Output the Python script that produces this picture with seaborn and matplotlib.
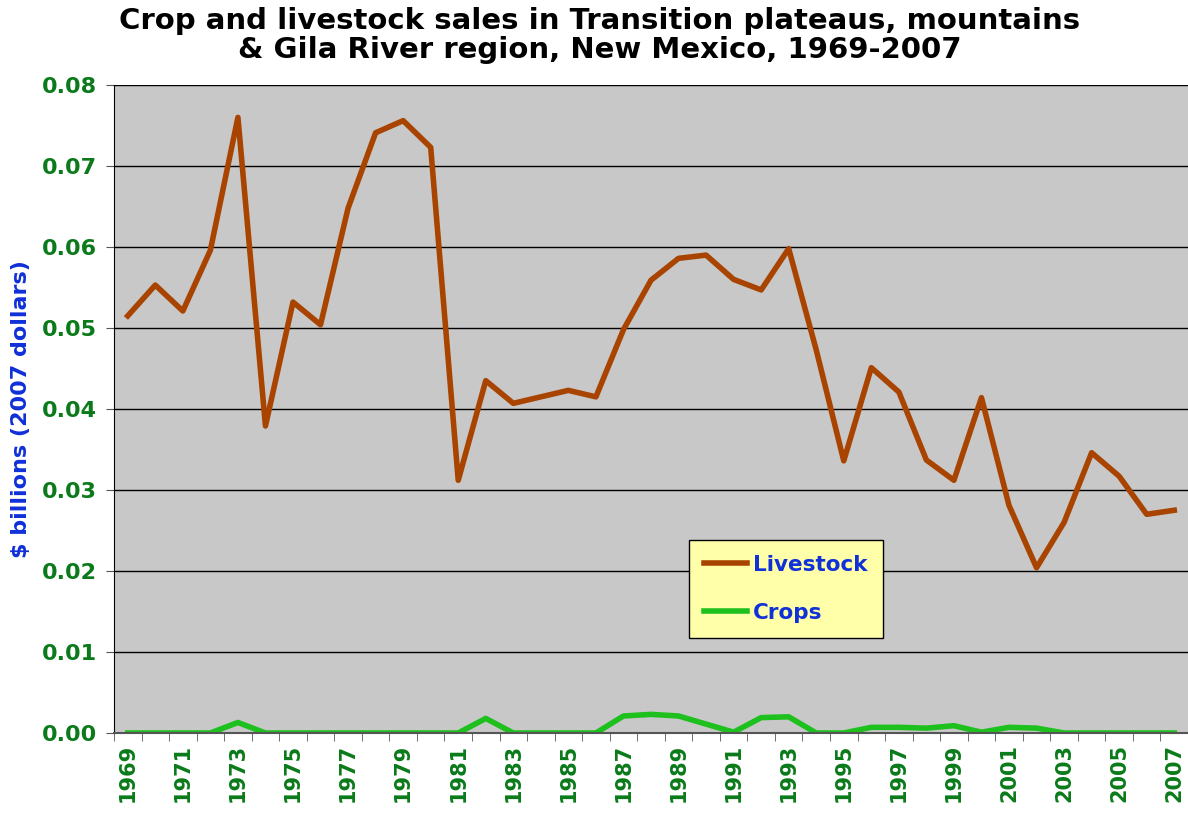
import pandas as pd
import matplotlib.pyplot as plt
import seaborn as sns

years = list(range(1969, 2008))
livestock = [0.0515, 0.0553, 0.0521, 0.0596, 0.0760, 0.0379, 0.0532, 0.0504,
             0.0648, 0.0741, 0.0756, 0.0723, 0.0312, 0.0435, 0.0407, 0.0415,
             0.0423, 0.0415, 0.0498, 0.0559, 0.0586, 0.0590, 0.0560, 0.0547,
             0.0598, 0.0473, 0.0336, 0.0451, 0.0421, 0.0337, 0.0312, 0.0414,
             0.0281, 0.0204, 0.0260, 0.0346, 0.0317, 0.0270, 0.0275]
crops = [0.0, 0.0, 0.0, 0.0, 0.0013, 0.0, 0.0, 0.0,
         0.0, 0.0, 0.0, 0.0, 0.0, 0.0018, 0.0, 0.0,
         0.0, 0.0, 0.0021, 0.0023, 0.0021, 0.0011, 0.0001, 0.0019,
         0.0020, 0.0, 0.0, 0.0007, 0.0007, 0.0006, 0.0009, 0.0001,
         0.0007, 0.0006, 0.0, 0.0, 0.0, 0.0, 0.0]

df = pd.DataFrame({
    "pos": list(range(len(years))) * 2,
    "value": livestock + crops,
    "series": ["Livestock"] * len(years) + ["Crops"] * len(years),
})

green = "#0A7A1A"
blue = "#1030D8"

fig = plt.figure(figsize=(11.88, 8.14), dpi=100)
ax = fig.add_axes([114 / 1188, 81 / 814, 1 - 114 / 1188, (733 - 85) / 814])
ax.set_facecolor("#C8C8C8")

sns.lineplot(data=df, x="pos", y="value", hue="series",
             palette={"Livestock": "#A84400", "Crops": "#1EC01E"},
             linewidth=4, ax=ax)

ax.set_ylim(0, 0.08)
ax.set_xlim(-0.5, 38.3)
ax.set_yticks([i / 100 for i in range(9)])
ax.set_yticklabels([f"{i / 100:.2f}" for i in range(9)], color=green,
                   fontsize=16, fontweight="bold")
ax.set_xticks(range(0, len(years), 2))
ax.set_xticklabels([str(y) for y in years[::2]], rotation=90, color=green,
                   fontsize=15, fontweight="bold")
ax.set_xticks([i + 0.5 for i in range(-1, len(years))], minor=True)
ax.tick_params(axis="x", which="major", length=0, pad=8)
ax.tick_params(axis="x", which="minor", length=6, color="#555555")
ax.tick_params(axis="y", length=6, color="#555555", pad=6)
ax.grid(axis="y", color="black", linewidth=1)
ax.set_axisbelow(True)
for s in ["top", "right"]:
    ax.spines[s].set_visible(False)
ax.spines["left"].set_color("black")
ax.spines["bottom"].set_color("#555555")
ax.spines["bottom"].set_linewidth(1.5)

ax.set_xlabel("")
ax.set_ylabel("$ billions (2007 dollars)", color=blue, fontsize=16,
              fontweight="bold", labelpad=8)

fig.suptitle("Crop and livestock sales in Transition plateaus, mountains\n"
             "& Gila River region, New Mexico, 1969-2007",
             fontsize=21, fontweight="bold", y=0.992, x=0.505,
             linespacing=1.05)

leg = ax.legend(loc="upper left", bbox_to_anchor=(0.535, 0.298),
                borderaxespad=0, frameon=True, fancybox=False,
                handlelength=2.0, handletextpad=0.3, labelspacing=1.3,
                borderpad=0.7, prop={"size": 15.5, "weight": "bold"})
leg.get_frame().set_facecolor("#FFFFAA")
leg.get_frame().set_edgecolor("black")
leg.get_frame().set_alpha(1)
for t in leg.get_texts():
    t.set_color(blue)

fig.savefig("out.png", dpi=100)
